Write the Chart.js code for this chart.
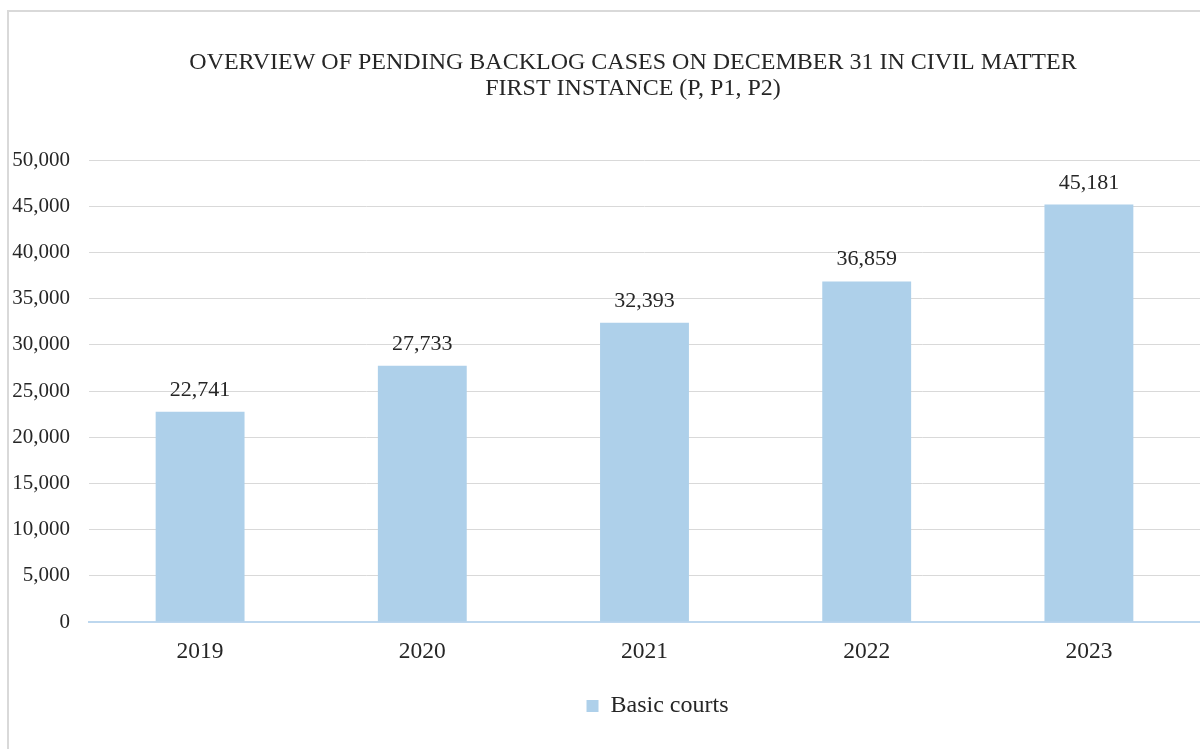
<!DOCTYPE html>
<html>
<head>
<meta charset="utf-8">
<script src="https://cdn.jsdelivr.net/npm/chart.js@4.4.1/dist/chart.umd.min.js"></script>
<style>
  html, body { margin: 0; padding: 0; background: #fff; overflow: hidden; }
  #frame { position: absolute; left: 7px; top: 10px; width: 1300px; height: 800px; border: 2px solid #d9d9d9; }
  #wrap { position: absolute; left: 0; top: 0; width: 1266px; height: 749px; }
</style>
</head>
<body>
<div id="frame"></div>
<div id="wrap"><canvas id="backlog-chart"></canvas></div>
<script>
const years = ['2019', '2020', '2021', '2022', '2023'];
const basicCourts = [22741, 27733, 32393, 36859, 45181];
const titleLines = ['OVERVIEW OF PENDING BACKLOG CASES ON DECEMBER 31 IN CIVIL MATTER', 'FIRST INSTANCE (P, P1, P2)'];

const serif = "'Liberation Serif', 'Times New Roman', serif";
const textColor = '#262626';

// value labels above each bar
const valueLabels = {
    id: 'valueLabels',
    afterDatasetsDraw(chart) {
        const ctx = chart.ctx;
        ctx.save();
        ctx.font = '22px ' + serif;
        ctx.fillStyle = textColor;
        ctx.textAlign = 'center';
        ctx.textBaseline = 'alphabetic';
        chart.getDatasetMeta(0).data.forEach((bar, i) => {
            ctx.fillText(basicCourts[i].toLocaleString('en-US'), bar.x, bar.y - 16);
        });
        ctx.restore();
    }
};

// nudge the legend a little to the right of the plot centre
const legendShift = {
    id: 'legendShift',
    afterLayout(chart) {
        if (!chart.legend) return;
        chart.legend.left += 13;
        chart.legend.right += 13;
    }
};

const ctx = document.getElementById('backlog-chart').getContext('2d');
new Chart(ctx, {
    type: 'bar',
    data: {
        labels: years,
        datasets: [{
            label: 'Basic courts',
            data: basicCourts,
            backgroundColor: '#aed0ea',
            categoryPercentage: 1,
            barPercentage: 0.4
        }]
    },
    options: {
        responsive: true,
        maintainAspectRatio: false,
        animation: false,
        layout: { padding: { left: 0, right: 0, top: 0, bottom: 21 } },
        plugins: {
            title: {
                display: true,
                text: titleLines,
                color: textColor,
                font: { family: serif, size: 24, weight: 'normal', lineHeight: 26 / 24 },
                padding: { top: 50, bottom: 58 }
            },
            legend: {
                position: 'bottom',
                fullSize: false,
                labels: {
                    color: textColor,
                    font: { family: serif, size: 24 },
                    boxWidth: 12,
                    boxHeight: 12,
                    padding: 10
                }
            },
            tooltip: { enabled: false }
        },
        scales: {
            x: {
                grid: { display: false, drawTicks: false },
                border: { color: '#bdd7ee', width: 2 },
                ticks: { color: textColor, font: { family: serif, size: 23.5 }, padding: 16 },
                afterFit(scale) { scale.height = 62; }
            },
            y: {
                min: 0,
                max: 50000,
                grid: { color: '#d9d9d9', drawTicks: false },
                border: { display: false },
                ticks: {
                    stepSize: 5000,
                    color: textColor,
                    font: { family: serif, size: 21 },
                    padding: 19,
                    callback: v => v.toLocaleString('en-US')
                },
                afterFit(scale) { scale.width = 89; }
            },
            // empty strip on the right, keeps the plot ending at 1200px
            spacer: {
                type: 'linear',
                position: 'right',
                grid: { display: false, drawTicks: false },
                border: { display: false },
                ticks: { display: false },
                afterFit(scale) { scale.width = 66; }
            }
        }
    },
    plugins: [valueLabels, legendShift]
});
</script>
</body>
</html>
